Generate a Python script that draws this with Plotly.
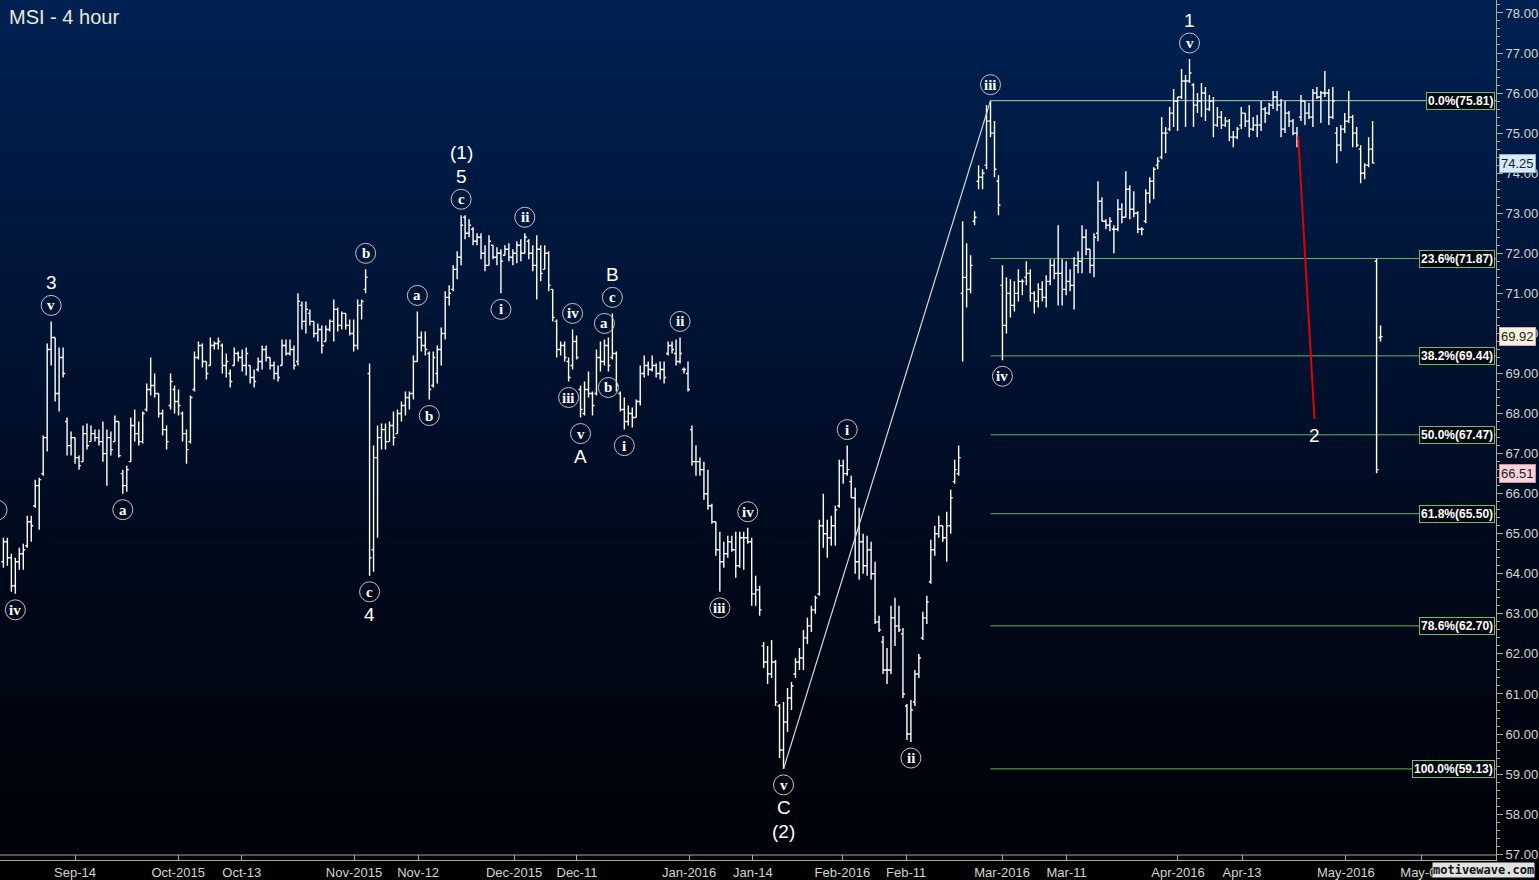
import numpy as np
import plotly.graph_objects as go

# MSI 4-hour bars (two per session), oldest first
bar_high = [
    64.9, 64.9, 64.5, 64.4, 64.65, 64.75, 65.45, 65.45, 66.35, 66.4,
    67.45, 69.75, 70.3, 69.9, 69.65, 69.65, 67.9, 67.55, 67.4, 66.95,
    67.7, 67.75, 67.7, 67.6, 67.6, 67.8, 67.6, 67.55, 67.95, 67.8,
    66.6, 66.7, 67.9, 68.1, 67.8, 68.05, 68.75, 69.4, 69.0, 68.5,
    68.1, 67.7, 69.0, 68.7, 68.6, 68.05, 67.6, 68.45, 69.55, 69.8,
    69.75, 69.3, 69.9, 69.8, 69.9, 69.75, 69.5, 69.1, 69.65, 69.55,
    69.6, 69.65, 69.2, 69.1, 69.4, 69.7, 69.7, 69.4, 69.3, 69.2,
    69.85, 69.85, 69.85, 69.7, 71.0, 70.8, 70.8, 70.6, 70.3, 70.25,
    70.2, 70.2, 70.35, 70.85, 70.65, 70.55, 70.5, 70.35, 70.35, 70.85,
    70.85, 71.6, 69.25, 67.2, 67.7, 67.75, 67.75, 67.8, 68.05, 68.1,
    68.3, 68.55, 68.55, 69.45, 70.55, 70.05, 70.05, 69.55, 69.55, 69.7,
    70.15, 71.05, 71.2, 71.7, 72.05, 72.95, 72.95, 72.85, 72.65, 72.5,
    72.5, 72.2, 72.45, 72.2, 72.15, 72.1, 72.2, 72.25, 72.1, 72.3,
    72.35, 72.5, 72.35, 72.2, 72.45, 72.2, 72.2, 72.05, 71.1, 70.35,
    69.8, 69.8, 69.4, 70.1, 69.95, 68.7, 68.8, 69.05, 68.55, 69.6,
    69.8, 69.85, 69.9, 70.5, 69.55, 68.55, 68.4, 68.2, 68.15, 68.35,
    69.2, 69.45, 69.3, 69.45, 69.25, 69.3, 69.3, 69.8, 69.8, 69.85,
    69.9, 69.15, 69.3, 67.7, 67.2, 66.9, 66.8, 66.6, 65.75, 65.3,
    65.05, 64.8, 64.95, 64.95, 65.05, 65.05, 65.05, 65.15, 64.9, 63.95,
    63.7, 62.3, 62.2, 62.35, 61.85, 60.75, 60.8, 61.15, 61.3, 61.9,
    62.15, 62.6, 62.9, 63.2, 63.45, 65.35, 66.0, 65.35, 65.45, 65.7,
    66.85, 66.85, 67.2, 66.45, 66.15, 65.65, 65.0, 64.95, 64.8, 64.3,
    62.95, 62.45, 62.15, 63.2, 63.4, 63.2, 62.65, 60.75, 60.85, 61.6,
    62.0, 63.05, 63.45, 64.85, 65.2, 65.45, 65.2, 65.55, 66.1, 66.85,
    67.2, 72.8, 72.25, 71.95, 73.05, 74.2, 74.1, 75.7, 75.81, 75.3,
    73.95, 71.7, 71.4, 71.35, 71.3, 71.6, 71.35, 71.8, 71.6, 71.05,
    71.25, 71.3, 71.45, 71.85, 71.85, 72.7, 71.85, 71.8, 71.6, 71.9,
    72.05, 72.7, 72.6, 72.1, 72.5, 73.8, 73.4, 72.85, 72.9, 72.7,
    73.35, 73.25, 74.05, 73.7, 73.55, 73.05, 72.65, 73.6, 73.9, 74.15,
    74.4, 75.4, 75.15, 75.65, 76.1, 75.9, 76.6, 76.45, 76.85, 76.25,
    76.0, 76.25, 76.15, 75.95, 75.9, 75.65, 75.55, 75.4, 75.35, 75.05,
    75.15, 75.65, 75.5, 75.7, 75.4, 75.45, 75.8, 75.65, 75.75, 76.05,
    76.05, 75.85, 75.8, 75.55, 75.35, 75.15, 75.95, 75.8, 75.75, 76.1,
    76.15, 76.05, 76.55, 76.1, 76.15, 75.15, 75.2, 75.5, 76.05, 75.45,
    75.15, 74.7, 74.25, 74.9, 75.3, 71.87, 70.2,
]
bar_low = [
    64.15, 64.2, 63.55, 63.5, 64.1, 64.1, 64.65, 64.8, 65.65, 65.1,
    66.45, 67.05, 69.2, 68.3, 68.05, 68.9, 66.95, 66.95, 66.75, 66.6,
    66.8, 67.1, 67.3, 67.3, 67.2, 66.8, 66.2, 66.95, 67.3, 66.9,
    66.0, 66.05, 66.8, 67.3, 67.2, 67.25, 68.05, 68.45, 68.4, 67.9,
    67.45, 67.1, 68.1, 68.0, 67.95, 67.3, 66.75, 67.25, 68.55, 69.35,
    69.15, 68.85, 69.2, 69.6, 69.6, 69.0, 68.9, 68.65, 69.2, 69.3,
    69.05, 68.95, 68.75, 68.65, 69.05, 69.1, 69.3, 69.1, 68.85, 68.8,
    69.2, 69.45, 69.45, 69.1, 69.2, 70.1, 70.0, 70.2, 69.9, 69.8,
    69.5, 69.8, 70.05, 69.8, 70.05, 70.1, 70.1, 69.95, 69.55, 69.6,
    70.35, 71.0, 63.95, 64.05, 64.9, 67.1, 67.1, 67.3, 67.2, 67.5,
    67.8, 67.95, 68.1, 68.35, 69.3, 69.55, 69.45, 68.35, 68.65, 68.75,
    69.2, 69.85, 70.7, 71.05, 71.35, 71.7, 72.35, 72.4, 72.2, 72.2,
    71.85, 71.55, 71.7, 71.85, 71.7, 71.0, 71.95, 71.8, 71.7, 71.75,
    71.8, 72.0, 71.85, 71.55, 70.85, 71.3, 71.6, 71.05, 70.3, 69.4,
    69.45, 69.3, 68.8, 69.1, 69.35, 67.9, 67.95, 68.4, 67.95, 68.45,
    69.05, 69.2, 69.05, 69.35, 68.55, 68.05, 67.6, 67.7, 67.65, 67.9,
    68.2, 68.9, 68.95, 69.05, 68.9, 68.85, 68.75, 69.45, 69.5, 69.2,
    69.25, 69.0, 68.55, 66.7, 66.45, 66.45, 65.85, 65.6, 65.25, 64.45,
    63.55, 64.15, 64.4, 64.55, 63.9, 64.15, 64.1, 64.75, 63.2, 63.2,
    62.95, 61.65, 61.25, 61.4, 60.7, 59.4, 59.13, 60.05, 60.6, 61.4,
    61.6, 61.6, 62.25, 62.55, 63.0, 63.45, 64.65, 64.4, 64.7, 64.7,
    65.65, 66.25, 66.45, 65.9, 64.0, 63.85, 64.0, 63.95, 63.85, 62.75,
    62.55, 61.5, 61.25, 61.5, 62.2, 62.55, 60.9, 59.85, 59.8, 60.7,
    61.4, 62.35, 62.75, 63.75, 64.45, 64.9, 64.8, 64.3, 65.0, 66.25,
    66.45, 69.3, 70.65, 71.0, 72.7, 73.6, 73.6, 74.1, 74.9, 73.9,
    72.95, 69.33, 70.0, 70.4, 70.55, 70.8, 70.95, 71.2, 70.8, 70.5,
    70.65, 70.8, 70.65, 71.2, 71.35, 70.7, 70.7, 70.95, 71.05, 70.6,
    71.5, 71.5, 71.95, 71.5, 71.4, 72.3, 72.8, 72.6, 72.55, 72.0,
    72.55, 72.75, 72.9, 72.85, 72.9, 72.5, 72.45, 72.75, 73.25, 73.35,
    74.1, 74.35, 74.5, 75.05, 75.15, 75.05, 75.85, 75.15, 76.25, 75.15,
    75.5, 75.4, 75.3, 75.55, 74.9, 75.15, 75.1, 75.15, 74.8, 74.65,
    74.85, 75.1, 75.15, 74.9, 75.05, 74.9, 75.05, 75.25, 75.45, 75.6,
    75.55, 74.9, 75.0, 75.15, 74.95, 74.65, 75.3, 75.2, 75.35, 75.15,
    75.85, 75.25, 75.9, 75.2, 75.35, 74.25, 74.55, 75.0, 75.25, 74.65,
    74.65, 73.75, 73.85, 74.15, 74.25, 66.51, 69.8,
]
bar_open = [
    64.3, 64.8, 64.4, 63.7, 64.3, 64.5, 64.7, 65.3, 65.7, 66.2,
    66.5, 67.4, 69.6, 69.9, 68.5, 69.4, 67.8, 67.2, 67.4, 66.9,
    66.8, 67.5, 67.3, 67.5, 67.4, 67.3, 67.0, 67.4, 67.3, 67.8,
    66.5, 66.2, 66.8, 67.7, 67.5, 67.3, 68.1, 68.6, 68.7, 68.5,
    68.0, 67.6, 68.2, 68.6, 68.3, 68.0, 67.5, 67.3, 68.6, 69.4,
    69.7, 69.3, 69.2, 69.7, 69.75, 69.7, 69.2, 69.0, 69.2, 69.5,
    69.4, 69.2, 69.2, 68.9, 69.1, 69.3, 69.6, 69.4, 69.2, 69.0,
    69.2, 69.7, 69.5, 69.6, 69.3, 70.7, 70.3, 70.5, 70.3, 70.0,
    70.1, 69.8, 70.1, 70.3, 70.6, 70.2, 70.5, 70.2, 70.0, 69.7,
    70.7, 71.1, 69.0, 64.6, 66.9, 67.4, 67.6, 67.3, 67.7, 67.5,
    68.0, 68.2, 68.4, 68.5, 69.3, 69.9, 69.7, 69.5, 68.7, 69.0,
    69.6, 70.0, 70.9, 71.1, 71.6, 71.9, 72.9, 72.5, 72.6, 72.3,
    72.4, 72.0, 71.7, 72.2, 71.9, 72.0, 71.95, 72.1, 71.9, 72.0,
    72.2, 72.0, 72.3, 72.0, 71.7, 72.1, 71.6, 72.0, 71.1, 70.3,
    69.6, 69.7, 69.3, 69.2, 69.8, 68.6, 68.0, 68.6, 68.5, 68.5,
    69.4, 69.3, 69.7, 69.4, 69.5, 68.5, 68.1, 67.8, 68.0, 67.9,
    68.3, 69.0, 69.2, 69.1, 69.2, 69.0, 69.1, 69.5, 69.7, 69.5,
    69.3, 69.1, 69.0, 67.6, 66.8, 66.8, 66.6, 66.0, 65.7, 65.3,
    64.6, 64.3, 64.5, 64.8, 64.6, 64.2, 64.9, 64.9, 64.8, 63.5,
    63.6, 62.2, 61.8, 61.5, 61.8, 60.7, 59.6, 60.3, 60.9, 61.5,
    61.8, 61.9, 62.4, 62.7, 63.1, 63.5, 65.2, 65.0, 64.9, 65.2,
    65.7, 66.7, 66.5, 66.3, 65.9, 64.3, 64.8, 64.2, 64.6, 64.0,
    62.8, 62.3, 61.6, 61.6, 62.9, 62.7, 62.5, 60.7, 60.0, 60.8,
    61.5, 62.4, 62.9, 63.8, 64.6, 65.0, 65.2, 64.9, 65.2, 66.3,
    66.5, 71.0, 71.4, 71.1, 72.8, 73.8, 73.9, 74.2, 75.3, 75.0,
    73.8, 71.2, 70.2, 71.0, 70.7, 71.0, 71.3, 71.4, 71.5, 71.0,
    70.8, 71.1, 70.9, 71.3, 71.7, 71.5, 71.5, 71.1, 71.3, 71.2,
    71.7, 71.8, 72.4, 72.1, 71.7, 72.5, 73.3, 72.8, 72.7, 72.6,
    72.6, 73.1, 72.9, 73.6, 73.1, 73.0, 72.6, 72.8, 73.5, 73.8,
    74.2, 74.4, 75.0, 75.1, 75.5, 75.8, 75.9, 76.3, 76.3, 76.2,
    75.7, 75.8, 76.0, 75.6, 75.8, 75.2, 75.4, 75.2, 75.3, 74.9,
    74.9, 75.2, 75.5, 75.3, 75.1, 75.2, 75.2, 75.6, 75.5, 75.7,
    75.9, 75.7, 75.1, 75.5, 75.3, 75.0, 75.4, 75.8, 75.5, 75.4,
    76.0, 75.9, 76.0, 76.0, 75.4, 75.0, 74.7, 75.1, 75.3, 75.4,
    75.0, 74.6, 74.0, 74.2, 74.6, 71.8, 69.9,
]
bar_close = [
    64.8, 64.4, 63.7, 64.3, 64.5, 64.6, 65.3, 65.2, 66.2, 66.35,
    67.4, 69.6, 69.9, 68.5, 69.4, 69.0, 67.2, 67.4, 66.9, 66.7,
    67.5, 67.2, 67.5, 67.4, 67.3, 67.0, 67.4, 67.1, 67.8, 66.95,
    66.2, 66.6, 67.7, 67.5, 67.3, 68.0, 68.6, 68.7, 68.5, 68.0,
    67.6, 67.3, 68.8, 68.3, 68.2, 67.5, 67.1, 68.4, 69.4, 69.7,
    69.3, 69.0, 69.7, 69.75, 69.8, 69.2, 69.3, 68.8, 69.5, 69.4,
    69.2, 69.5, 68.9, 68.8, 69.3, 69.6, 69.4, 69.2, 69.0, 68.9,
    69.7, 69.5, 69.6, 69.2, 70.8, 70.3, 70.6, 70.3, 70.0, 70.1,
    69.7, 70.1, 70.3, 70.6, 70.2, 70.5, 70.2, 70.0, 69.7, 70.7,
    70.8, 71.4, 64.4, 66.9, 67.4, 67.6, 67.3, 67.7, 67.4, 68.0,
    68.2, 68.4, 68.5, 69.3, 69.9, 69.7, 69.6, 68.6, 69.4, 69.6,
    70.0, 70.9, 71.0, 71.6, 71.9, 72.7, 72.5, 72.7, 72.3, 72.4,
    72.0, 71.7, 72.3, 71.9, 72.0, 71.8, 72.1, 71.9, 72.0, 72.2,
    72.0, 72.4, 72.0, 71.7, 72.1, 71.5, 72.0, 71.2, 70.4, 69.6,
    69.7, 69.4, 68.9, 69.8, 69.4, 68.1, 68.6, 68.5, 68.2, 69.4,
    69.3, 69.7, 69.2, 69.5, 68.7, 68.1, 67.8, 68.0, 67.9, 68.3,
    69.0, 69.2, 69.1, 69.2, 69.0, 69.1, 68.9, 69.7, 69.6, 69.3,
    69.5, 69.1, 68.6, 66.8, 66.8, 66.6, 66.0, 65.7, 65.3, 64.6,
    64.3, 64.5, 64.8, 64.6, 64.2, 64.9, 64.9, 64.8, 63.5, 63.6,
    63.1, 61.8, 61.5, 61.8, 60.8, 59.6, 60.3, 60.9, 61.2, 61.8,
    61.9, 62.4, 62.7, 63.1, 63.4, 65.2, 65.0, 64.9, 65.2, 65.6,
    66.7, 66.5, 66.6, 65.9, 64.3, 64.8, 64.2, 64.6, 64.0, 62.8,
    62.6, 61.6, 61.6, 62.9, 62.7, 62.6, 61.0, 60.0, 60.6, 61.5,
    61.9, 62.9, 63.3, 64.6, 65.0, 65.2, 64.9, 65.2, 65.9, 66.6,
    66.9, 71.4, 71.1, 71.7, 72.9, 73.9, 74.0, 75.3, 75.0, 74.1,
    73.2, 70.2, 71.0, 70.7, 71.0, 71.3, 71.3, 71.5, 71.0, 70.8,
    71.1, 70.9, 71.3, 71.7, 71.5, 71.5, 71.1, 71.3, 71.2, 71.7,
    71.8, 72.4, 72.1, 71.7, 72.4, 73.3, 72.8, 72.7, 72.8, 72.6,
    73.1, 72.9, 73.6, 73.1, 73.0, 72.6, 72.6, 73.5, 73.8, 74.1,
    74.3, 75.0, 75.0, 75.5, 75.8, 75.9, 76.3, 76.3, 76.5, 75.7,
    75.8, 76.0, 75.6, 75.8, 75.2, 75.4, 75.2, 75.3, 74.9, 74.9,
    75.1, 75.5, 75.3, 75.1, 75.2, 75.2, 75.6, 75.5, 75.7, 75.9,
    75.7, 75.1, 75.5, 75.3, 75.0, 74.8, 75.8, 75.5, 75.4, 76.0,
    75.9, 76.0, 76.0, 75.4, 75.8, 74.7, 75.1, 75.3, 75.4, 75.0,
    74.7, 74.0, 74.2, 74.6, 74.25, 66.6, 69.92,
]

# date ticks (bar positions) on the time axis
tick_pos = [18, 43.9, 59.9, 88.1, 104.2, 128.3, 144.1, 172.3, 188.3, 210.8,
            226.8, 250.9, 267.1, 295.1, 311.2, 337.3, 356.4]
tick_text = ["Sep-14", "Oct-2015", "Oct-13", "Nov-2015", "Nov-12", "Dec-2015",
             "Dec-11", "Jan-2016", "Jan-14", "Feb-2016", "Feb-11", "Mar-2016",
             "Mar-11", "Apr-2016", "Apr-13", "May-2016", "May-08"]

# elliott wave labels: bar, side, circled label, plain labels stacked outward
wave_labels = [
    (3, "low", "iv", []),
    (12, "high", "v", ["3"]),
    (30, "low", "a", []),
    (91, "high", "b", []),
    (92, "low", "c", ["4"]),
    (104, "high", "a", []),
    (107, "low", "b", []),
    (115, "high", "c", ["5", "(1)"]),
    (125, "low", "i", []),
    (131, "high", "ii", []),
    (142, "low", "iii", []),
    (143, "high", "iv", []),
    (145, "low", "v", ["A"]),
    (151, "high", "a", []),
    (152, "low", "b", []),
    (153, "high", "c", ["B"]),
    (156, "low", "i", []),
    (170, "high", "ii", []),
    (180, "low", "iii", []),
    (187, "high", "iv", []),
    (196, "low", "v", ["C", "(2)"]),
    (212, "high", "i", []),
    (228, "low", "ii", []),
    (248, "high", "iii", []),
    (251, "low", "iv", []),
    (298, "high", "v", ["1"]),
]
# label cut by the left edge (its bar is off-chart)
edge_label = ("i", 65.59)

# fibonacci retracement of the (2) low -> iii high swing
fib_pct = ["0.0%", "23.6%", "38.2%", "50.0%", "61.8%", "78.6%", "100.0%"]
fib_price = [75.81, 71.87, 69.44, 67.47, 65.50, 62.70, 59.13]
fib_from_bar = 248

swing_bars = [196, 248]
proj_x = [325.3, 329.4]
proj_y = [74.92, 67.86]
proj_label = "2"

price_tags = [74.25, 69.92, 66.51]
tag_bg = ["#d6ebf7", "#f6f2dd", "#f9d3dc"]
tag_border = ["#86b2cc", "#e0a6bf", "#d48ea2"]

X_RANGE = [-0.854, 375.0]
Y_RANGE = [56.856, 78.323]
AXIS_C = "#a9a99a"
TEXT_C = "#d6d6c8"

x = list(range(len(bar_high)))
fig = go.Figure()

fig.add_trace(go.Ohlc(
    x=x, open=bar_open, high=bar_high, low=bar_low, close=bar_close,
    increasing_line_color="white", decreasing_line_color="white",
    line_width=1.4, tickwidth=0.5, hoverinfo="skip", showlegend=False))

# trend line from the (2) low to the iii high
fig.add_trace(go.Scatter(
    x=swing_bars, y=[bar_low[swing_bars[0]], bar_high[swing_bars[1]]],
    mode="lines", line=dict(color="#d8d8d8", width=1.2),
    hoverinfo="skip", showlegend=False))

# projected wave 2
fig.add_trace(go.Scatter(
    x=proj_x, y=proj_y, mode="lines", line=dict(color="#e00000", width=2),
    hoverinfo="skip", showlegend=False))

shapes = []
annotations = []

# background gradient (navy -> black)
stops = np.array([[0.0, 0, 33, 82], [0.35, 0, 20, 54],
                  [0.65, 0, 9, 27], [1.0, 0, 2, 7]])
bands = 90
for k in range(bands):
    t = (k + 0.5) / bands
    r, g, b = (np.interp(t, stops[:, 0], stops[:, c]) for c in (1, 2, 3))
    shapes.append(dict(type="rect", xref="paper", yref="paper",
                       x0=0, x1=1.03, y0=1 - (k + 1) / bands - 0.002, y1=1 - k / bands,
                       fillcolor=f"rgb({r:.0f},{g:.0f},{b:.0f})",
                       line_width=0, layer="below"))

# second rule of the time-axis strip
shapes.append(dict(type="line", xref="paper", yref="paper", x0=0, x1=1,
                   y0=5 / 863, y1=5 / 863, line=dict(color=AXIS_C, width=1)))

# fib lines and labels
for i, (pct, p) in enumerate(zip(fib_pct, fib_price)):
    col = "#b4ccb4" if i == 0 else "#5fb35f"
    shapes.append(dict(type="line", xref="x", yref="y", x0=fib_from_bar, x1=X_RANGE[1],
                       y0=p, y1=p, line=dict(color=col, width=1), layer="below"))
    annotations.append(dict(
        xref="paper", yref="y", x=1, y=p, xanchor="right", yanchor="middle", xshift=-1,
        text=f"<b>{pct}({p:.2f})</b>", showarrow=False,
        font=dict(family="Liberation Sans, Arial", size=12, color="white"),
        bgcolor="#05090f", bordercolor="#6cbc6c", borderwidth=1, borderpad=1))

# wave labels
serif = dict(family="Liberation Serif, Times New Roman", size=15, color="white", weight="bold")
sans = dict(family="Liberation Sans, Arial", size=19, color="white")
circle_line = dict(color="#c4c4c4", width=1)
for bar, side, circ, plain in wave_labels:
    sgn = 1 if side == "high" else -1
    price = bar_high[bar] if side == "high" else bar_low[bar]
    off = sgn * 16
    shapes.append(dict(type="circle", xref="x", yref="y",
                       xsizemode="pixel", ysizemode="pixel",
                       xanchor=bar, yanchor=price, x0=-10, x1=10,
                       y0=off - 10, y1=off + 10, line=circle_line))
    annotations.append(dict(x=bar, y=price, yshift=off, text=circ, showarrow=False,
                            font=serif, xanchor="center", yanchor="middle"))
    for j, t in enumerate(plain):
        annotations.append(dict(x=bar, y=price, yshift=sgn * (39 + 24 * j), text=t,
                                showarrow=False, font=sans,
                                xanchor="center", yanchor="middle"))

# partly hidden label at the left edge
shapes.append(dict(type="circle", xref="x", yref="y", xsizemode="pixel",
                   ysizemode="pixel", xanchor=X_RANGE[0], yanchor=edge_label[1],
                   x0=-13, x1=7, y0=-10, y1=10, line=circle_line))
annotations.append(dict(x=X_RANGE[0] + 0.05, y=edge_label[1], xshift=-3.5,
                        text=edge_label[0], showarrow=False, font=serif,
                        xanchor="center", yanchor="middle"))

annotations.append(dict(x=proj_x[1], y=proj_y[1], yshift=-16, text=proj_label,
                        showarrow=False, font=sans, xanchor="center", yanchor="middle"))

# last-price tags on the price axis
for v, bg, bc in zip(price_tags, tag_bg, tag_border):
    annotations.append(dict(
        xref="paper", yref="y", x=1, y=v, xanchor="left", yanchor="middle", xshift=3,
        text=f"{v:.2f}", showarrow=False,
        font=dict(family="Liberation Sans, Arial", size=13, color="#1c1c1c"),
        bgcolor=bg, bordercolor=bc, borderwidth=1, borderpad=1))

# title
annotations.append(dict(xref="paper", yref="paper", x=0, y=1, xanchor="left",
                        yanchor="middle", xshift=7, yshift=-17, text="MSI - 4 hour",
                        showarrow=False,
                        font=dict(family="Liberation Sans, Arial", size=20, color="#e8e8dc")))

# watermark
annotations.append(dict(xref="paper", yref="paper", x=1.026, y=0, xanchor="right",
                        yanchor="top", yshift=-2, text="<b>motivewave.com</b>",
                        showarrow=False, bgcolor="#e2e2e2", borderpad=0,
                        font=dict(family="DejaVu Sans Mono", size=12, color="#111111")))

fig.update_layout(
    width=1539, height=880,
    margin=dict(l=0, r=43, t=0, b=17),
    paper_bgcolor="black", plot_bgcolor="black",
    showlegend=False,
    shapes=shapes, annotations=annotations,
    xaxis=dict(range=X_RANGE, showgrid=False, zeroline=False,
               rangeslider=dict(visible=False),
               tickmode="array", tickvals=tick_pos, ticktext=tick_text,
               ticks="inside", ticklen=5, tickcolor=AXIS_C,
               showline=True, linecolor=AXIS_C, linewidth=1,
               tickfont=dict(family="Liberation Sans Narrow, Arial Narrow, Liberation Sans",
                             size=13, color=TEXT_C)),
    yaxis=dict(range=Y_RANGE, side="right", showgrid=False, zeroline=False,
               dtick=1, tickformat=".2f", ticks="outside", ticklen=6,
               tickcolor=AXIS_C, showline=True, linecolor=AXIS_C, linewidth=1,
               minor=dict(dtick=0.2, ticks="outside", ticklen=3, tickcolor=AXIS_C),
               tickfont=dict(family="Liberation Sans Narrow, Arial Narrow, Liberation Sans",
                             size=13, color=TEXT_C)),
)

# page body has a default margin; drop it so the figure fills the window
fig.write_html("out.html", config={"displayModeBar": False},
               post_script="document.body.style.margin='0';")
